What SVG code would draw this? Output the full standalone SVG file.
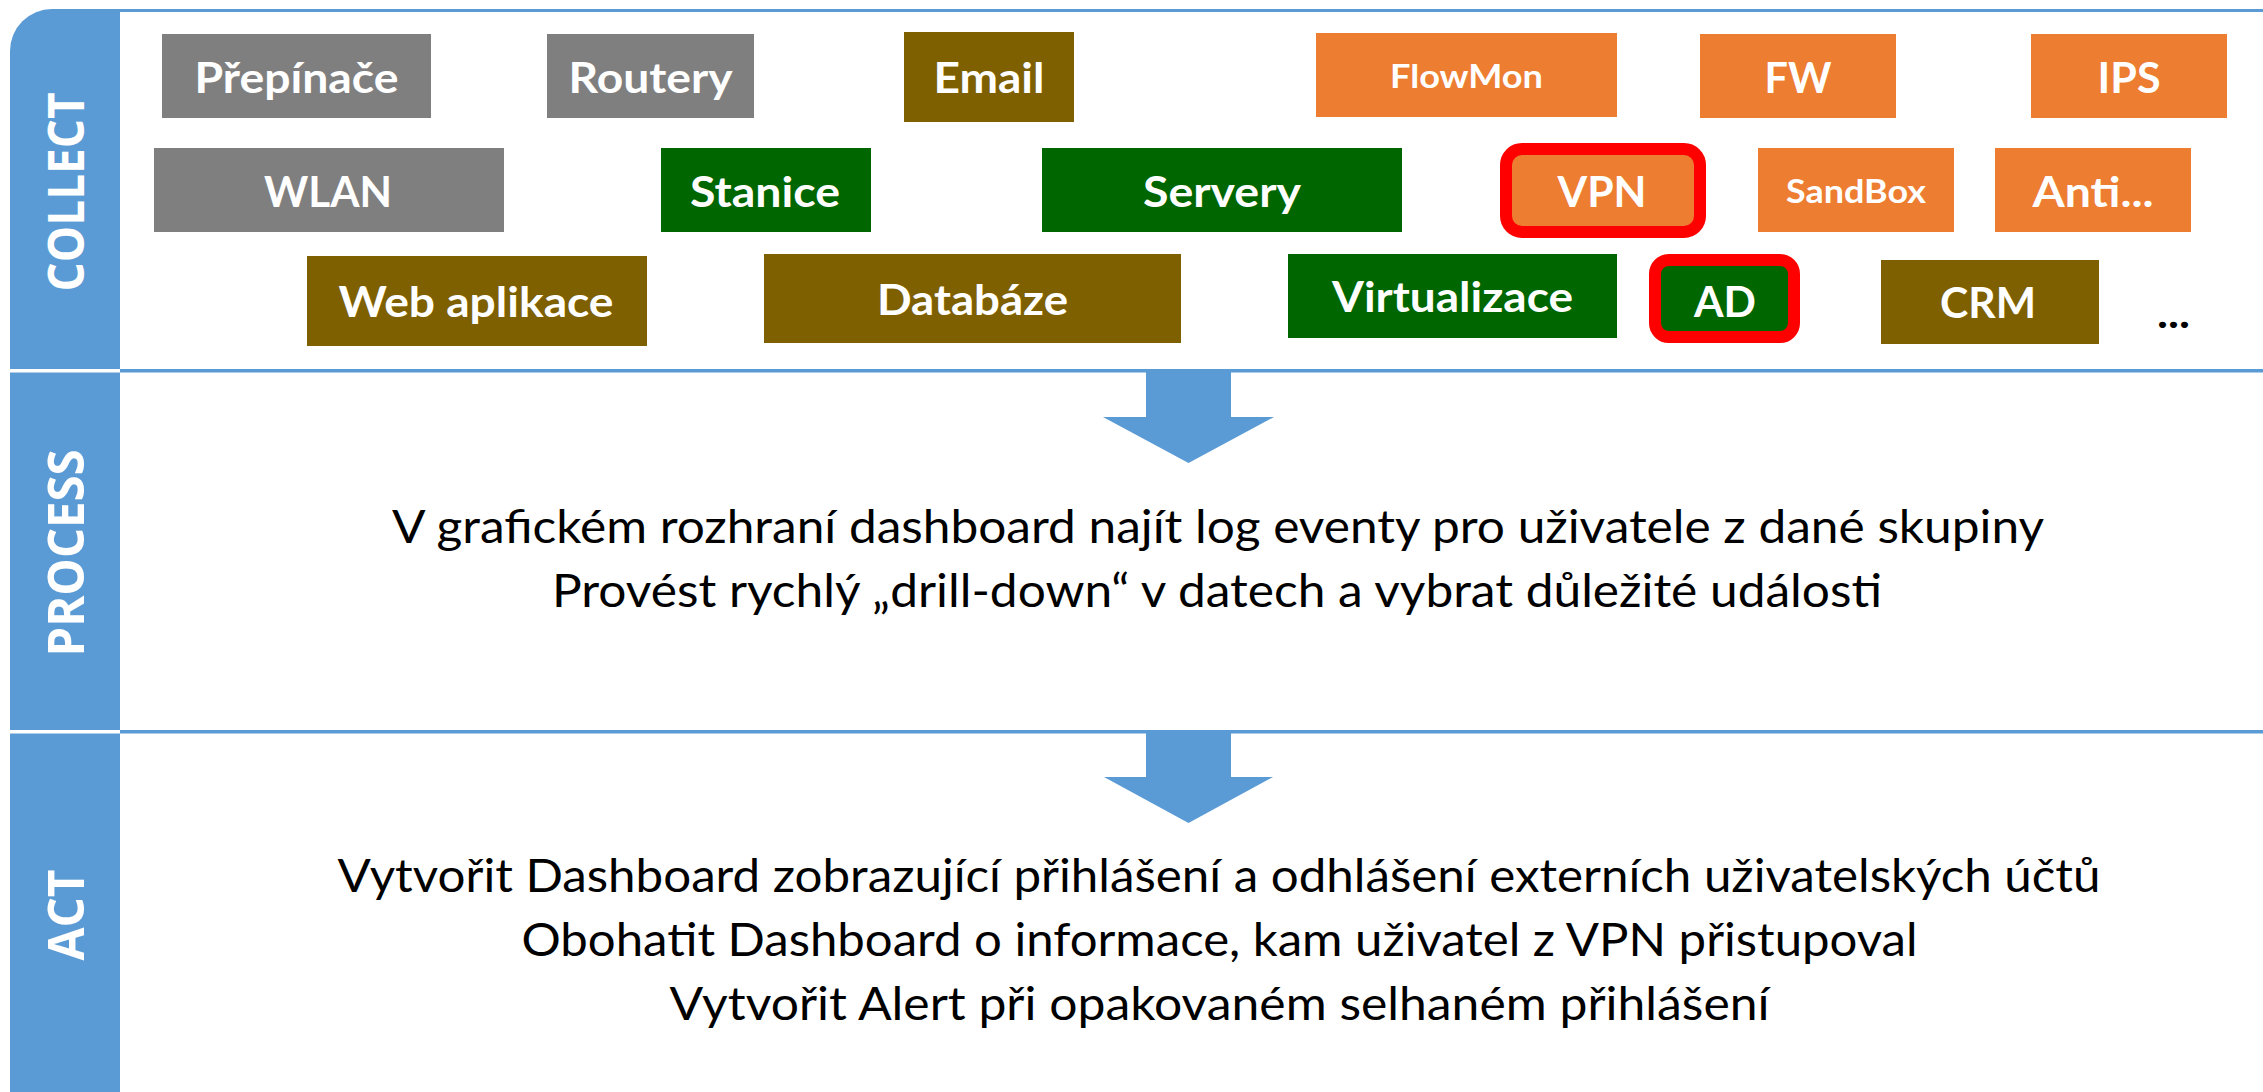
<svg xmlns="http://www.w3.org/2000/svg" width="2263" height="1092" viewBox="0 0 2263 1092">
<style>
.bar{fill:#5B9BD5}
.sep{fill:#5B9BD5}
.gray{fill:#7F7F7F}
.olive{fill:#7F6000}
.green{fill:#006600}
.orange{fill:#ED7D31}
.hl{stroke:#FF0000;stroke-width:12}
.lbl{font-family:Lato,"Open Sans","Liberation Sans",sans-serif;font-weight:700;font-size:42px;fill:#FFFFFF;text-anchor:middle}
.sm{font-size:33px}
.phase{font-family:"Open Sans","DejaVu Sans",sans-serif;font-weight:700;font-size:50px;fill:#FFFFFF;text-anchor:middle}
.body{font-family:Lato,"Open Sans","Liberation Sans",sans-serif;font-size:46px;fill:#000000;text-anchor:middle}
.arrow{fill:#5B9BD5}
</style>
<rect width="2263" height="1092" fill="#FFFFFF"/>

<g id="lanes">
  <path class="bar" d="M10,1092 L10,51 A42,42 0 0 1 52,9 L120,9 L120,1092 Z"/>
  <rect class="sep" x="120" y="9" width="2143" height="3"/>
  <rect class="sep" x="120" y="369" width="2143" height="3.5"/>
  <rect class="sep" x="120" y="730" width="2143" height="3.5"/>
  <rect x="10" y="369" width="110" height="3.5" fill="#FFFFFF"/>
  <rect x="10" y="730" width="110" height="3.5" fill="#FFFFFF"/>
  <text class="phase" transform="translate(84,192) rotate(-90)" textLength="199" lengthAdjust="spacingAndGlyphs">COLLECT</text>
  <text class="phase" transform="translate(84,553) rotate(-90)" textLength="207" lengthAdjust="spacingAndGlyphs">PROCESS</text>
  <text class="phase" transform="translate(84,915) rotate(-90)" textLength="91" lengthAdjust="spacingAndGlyphs">ACT</text>
</g>

<g id="node-prepinace"><rect class="gray" x="162" y="34" width="269" height="84"/><text class="lbl" x="296.5" y="93" textLength="204" lengthAdjust="spacingAndGlyphs">Přepínače</text></g>
<g id="node-routery"><rect class="gray" x="547" y="34" width="207" height="84"/><text class="lbl" x="650.5" y="93" textLength="164" lengthAdjust="spacingAndGlyphs">Routery</text></g>
<g id="node-email"><rect class="olive" x="904" y="32" width="170" height="90"/><text class="lbl" x="989" y="93" textLength="111" lengthAdjust="spacingAndGlyphs">Email</text></g>
<g id="node-flowmon"><rect class="orange" x="1316" y="33" width="301" height="84"/><text class="lbl sm" x="1466.5" y="88" textLength="153" lengthAdjust="spacingAndGlyphs">FlowMon</text></g>
<g id="node-fw"><rect class="orange" x="1700" y="34" width="196" height="84"/><text class="lbl" x="1798" y="93" textLength="67" lengthAdjust="spacingAndGlyphs">FW</text></g>
<g id="node-ips"><rect class="orange" x="2031" y="34" width="196" height="84"/><text class="lbl" x="2129" y="93" textLength="63" lengthAdjust="spacingAndGlyphs">IPS</text></g>

<g id="node-wlan"><rect class="gray" x="154" y="148" width="350" height="84"/><text class="lbl" x="328" y="207" textLength="128" lengthAdjust="spacingAndGlyphs">WLAN</text></g>
<g id="node-stanice"><rect class="green" x="661" y="148" width="210" height="84"/><text class="lbl" x="765" y="207" textLength="150" lengthAdjust="spacingAndGlyphs">Stanice</text></g>
<g id="node-servery"><rect class="green" x="1042" y="148" width="360" height="84"/><text class="lbl" x="1222" y="207" textLength="158" lengthAdjust="spacingAndGlyphs">Servery</text></g>
<g id="node-vpn"><rect class="orange hl" x="1506" y="149" width="194" height="83" rx="16"/><text class="lbl" x="1602" y="207" textLength="89" lengthAdjust="spacingAndGlyphs">VPN</text></g>
<g id="node-sandbox"><rect class="orange" x="1758" y="148" width="196" height="84"/><text class="lbl sm" x="1856" y="203" textLength="140" lengthAdjust="spacingAndGlyphs">SandBox</text></g>
<g id="node-anti"><rect class="orange" x="1995" y="148" width="196" height="84"/><text class="lbl" x="2093" y="207" textLength="121" lengthAdjust="spacingAndGlyphs">Anti...</text></g>

<g id="node-webaplikace"><rect class="olive" x="307" y="256" width="340" height="90"/><text class="lbl" x="476" y="317" textLength="275" lengthAdjust="spacingAndGlyphs">Web aplikace</text></g>
<g id="node-databaze"><rect class="olive" x="764" y="254" width="417" height="89"/><text class="lbl" x="972.5" y="315" textLength="191" lengthAdjust="spacingAndGlyphs">Databáze</text></g>
<g id="node-virtualizace"><rect class="green" x="1288" y="254" width="329" height="84"/><text class="lbl" x="1452.5" y="312" textLength="241" lengthAdjust="spacingAndGlyphs">Virtualizace</text></g>
<g id="node-ad"><rect class="green hl" x="1655" y="260" width="139" height="77" rx="14"/><text class="lbl" x="1725" y="317" textLength="62" lengthAdjust="spacingAndGlyphs">AD</text></g>
<g id="node-crm"><rect class="olive" x="1881" y="260" width="218" height="84"/><text class="lbl" x="1988" y="318" textLength="96" lengthAdjust="spacingAndGlyphs">CRM</text></g>
<g id="node-more"><text x="2173.5" y="328" font-family="Lato,'Open Sans',sans-serif" font-weight="700" font-size="42" fill="#000000" text-anchor="middle" textLength="33" lengthAdjust="spacingAndGlyphs">...</text></g>

<g id="connectors">
  <polygon class="arrow" points="1146,371 1231,371 1231,417 1274,417 1188.5,463 1103,417 1146,417"/>
  <polygon class="arrow" points="1146,732 1231,732 1231,777 1273,777 1188.5,823 1104,777 1146,777"/>
</g>

<g id="node-process-text">
  <text class="body" x="1218" y="543" textLength="1652" lengthAdjust="spacingAndGlyphs">V grafickém rozhraní dashboard najít log eventy pro uživatele z dané skupiny</text>
  <text class="body" x="1217" y="607" textLength="1330" lengthAdjust="spacingAndGlyphs">Provést rychlý „drill-down“ v datech a vybrat důležité události</text>
</g>
<g id="node-act-text">
  <text class="body" x="1219" y="892" textLength="1763" lengthAdjust="spacingAndGlyphs">Vytvořit Dashboard zobrazující přihlášení a odhlášení externích uživatelských účtů</text>
  <text class="body" x="1219.5" y="956" textLength="1396" lengthAdjust="spacingAndGlyphs">Obohatit Dashboard o informace, kam uživatel z VPN přistupoval</text>
  <text class="body" x="1219.5" y="1020" textLength="1100" lengthAdjust="spacingAndGlyphs">Vytvořit Alert při opakovaném selhaném přihlášení</text>
</g>
</svg>
